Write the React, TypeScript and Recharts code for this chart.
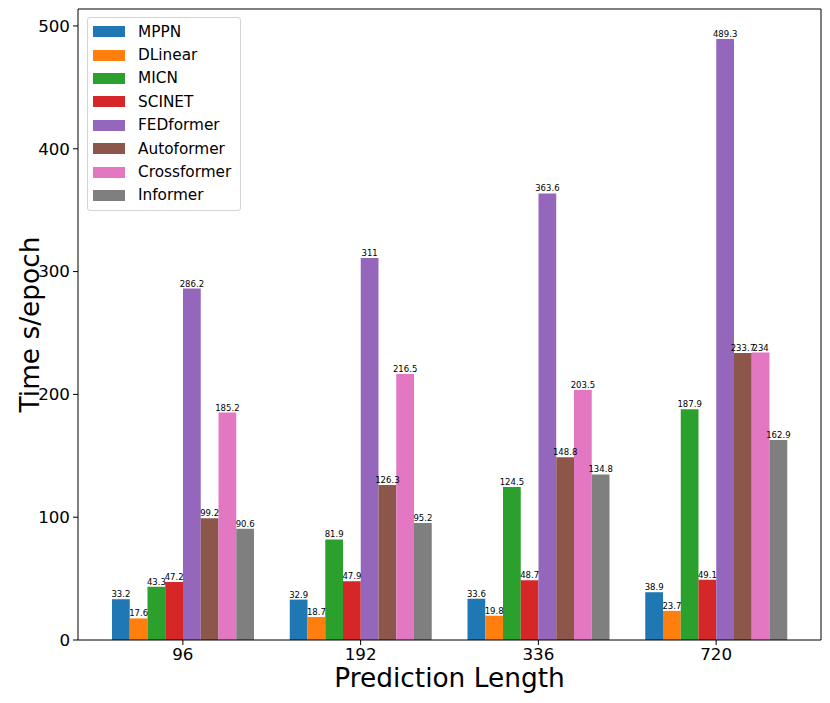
import React from 'react';
import { BarChart, Bar, XAxis, YAxis, Legend, LabelList, Label } from 'recharts';

const lengths = ['96', '192', '336', '720'];
const models = ['MPPN', 'DLinear', 'MICN', 'SCINET', 'FEDformer', 'Autoformer', 'Crossformer', 'Informer'];
const colors = ['#1f77b4', '#ff7f0e', '#2ca02c', '#d62728', '#9467bd', '#8c564b', '#e377c2', '#7f7f7f'];

const mppn = [33.2, 32.9, 33.6, 38.9];
const dlinear = [17.6, 18.7, 19.8, 23.7];
const micn = [43.3, 81.9, 124.5, 187.9];
const scinet = [47.2, 47.9, 48.7, 49.1];
const fedformer = [286.2, 311, 363.6, 489.3];
const autoformer = [99.2, 126.3, 148.8, 233.7];
const crossformer = [185.2, 216.5, 203.5, 234];
const informer = [90.6, 95.2, 134.8, 162.9];

const yTicks = [0, 100, 200, 300, 400, 500];

const series = [mppn, dlinear, micn, scinet, fedformer, autoformer, crossformer, informer];

const data = lengths.map((len, i) => {
  const row: Record<string, string | number> = { len };
  models.forEach((m, j) => {
    row[m] = series[j][i];
  });
  return row;
});

const FONT = '"DejaVu Sans", sans-serif';

// matplotlib-style legend box in the upper left
const renderLegend = () => (
  <div
    style={{
      width: 154,
      boxSizing: 'border-box',
      border: '1px solid #d4d4d4',
      borderRadius: 3,
      background: 'rgba(255,255,255,0.8)',
      padding: '2px 0 3px 0',
      fontFamily: FONT,
    }}
  >
    {models.map((m, i) => (
      <div key={m} style={{ display: 'flex', alignItems: 'center', height: 23.4 }}>
        <span style={{ display: 'inline-block', width: 32, height: 11, marginLeft: 5, background: colors[i] }} />
        <span style={{ marginLeft: 13, fontSize: 15.3, color: '#000' }}>{m}</span>
      </div>
    ))}
  </div>
);

export default function App() {
  return (
    <div style={{ position: 'absolute', left: 0, top: 0, width: 830, height: 703, background: '#fff' }}>
      <BarChart
        width={830}
        height={703}
        data={data}
        margin={{ top: 8, right: 8, left: 0, bottom: 0 }}
        barGap={0}
        style={{ fontFamily: FONT }}
      >
        <XAxis
          dataKey="len"
          height={63}
          padding={{ left: 16, right: 16 }}
          axisLine={{ stroke: '#000' }}
          tickLine={{ stroke: '#000' }}
          tickSize={5}
          tickMargin={3}
          tick={{ fill: '#000', fontSize: 16.7 }}
        >
          <Label
            content={({ viewBox }: any) => (
              <text
                x={viewBox.x + viewBox.width / 2}
                y={687}
                textAnchor="middle"
                fontSize={26.4}
                fill="#000"
              >
                Prediction Length
              </text>
            )}
          />
        </XAxis>
        {/* top and right spines */}
        <XAxis xAxisId="top" dataKey="len" orientation="top" height={1} tick={false} tickLine={false} axisLine={{ stroke: '#000' }} />
        <YAxis
          width={78}
          domain={[0, 513.8]}
          ticks={yTicks}
          interval={0}
          axisLine={{ stroke: '#000' }}
          tickLine={{ stroke: '#000' }}
          tickSize={5}
          tickMargin={3}
          tick={{ fill: '#000', fontSize: 16.7 }}
        >
          <Label
            content={({ viewBox }: any) => {
              const cy = viewBox.y + viewBox.height / 2;
              return (
                <text x={39} y={cy} transform={`rotate(-90 39 ${cy})`} textAnchor="middle" fontSize={26.4} fill="#000">
                  Time s/epoch
                </text>
              );
            }}
          />
        </YAxis>
        <YAxis yAxisId="right" orientation="right" width={1} domain={[0, 513.8]} tick={false} tickLine={false} axisLine={{ stroke: '#000' }} />
        <Legend
          layout="vertical"
          align="center"
          verticalAlign="middle"
          content={renderLegend}
          wrapperStyle={{ left: 87, top: 17, width: 155, height: 'auto' }}
        />
        {models.map((m, i) => (
          <Bar key={m} dataKey={m} fill={colors[i]} barSize={17.75} isAnimationActive={false}>
            <LabelList dataKey={m} position="top" offset={2} fontSize={8.5} fill="#000" />
          </Bar>
        ))}
      </BarChart>
    </div>
  );
}
